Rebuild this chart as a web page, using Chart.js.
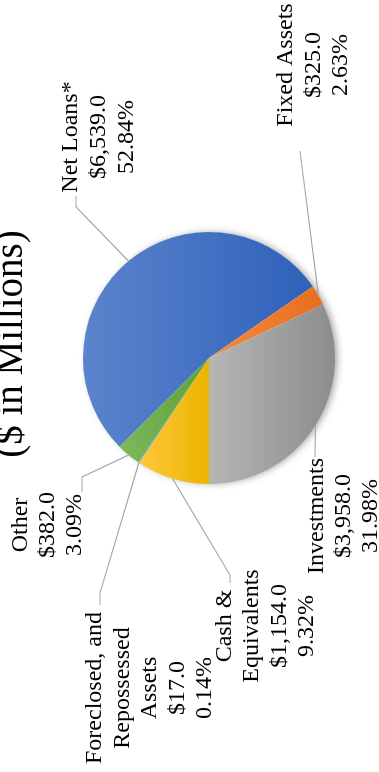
<!DOCTYPE html>
<html>
<head>
<meta charset="utf-8">
<script src="https://cdn.jsdelivr.net/npm/chart.js@4"></script>
<style>
    html, body { margin: 0; padding: 0; background: #fff; overflow: hidden; }
    /* the chart is laid out wide and turned a quarter turn to the left */
    #contenedor {
        position: absolute; left: 0; top: 772px;
        width: 772px; height: 379px;
        transform-origin: 0 0; transform: rotate(-90deg);
    }
</style>
</head>
<body>
<div id="contenedor"><canvas id="ActivosChart" width="772" height="379"></canvas></div>
<script>
// Datos
var categorias = [
    ['Net Loans*'],
    ['Fixed Assets'],
    ['Investments'],
    ['Cash &', 'Equivalents'],
    ['Foreclosed, and', 'Repossessed', 'Assets'],
    ['Other']
];
var montos = [6539.0, 325.0, 3958.0, 1154.0, 17.0, 382.0];
var porcentajes = ['52.84%', '2.63%', '31.98%', '9.32%', '0.14%', '3.09%'];
var titulo = '($ in Millions)';

var coloresClaros = ['#5c84cc', '#f58a40', '#b6b6b6', '#ffc83c', '#6ea8dc', '#7dba5c'];
var coloresOscuros = ['#2e61ba', '#e86e1c', '#8c8c8c', '#ebb400', '#4a88c4', '#5f9d3b'];

var rotacion = 315.2;

// posicion de cada etiqueta: centro x, primera linea base y, interlineado, codos de la guia
var etiquetas = [
    { x: 635, y: 77, lh: 28, guia: [[565, 76], [576, 76]] },
    { x: 707, y: 292, lh: 27.5, guia: [[621, 300]] },
    { x: 256, y: 323, lh: 27, guia: [[315, 315]] },
    { x: 146, y: 231, lh: 27.3, guia: [[197, 230], [189, 230]] },
    { x: 84, y: 101, lh: 27.5, guia: [[179, 100], [167, 100]] },
    { x: 247, y: 27, lh: 27, guia: [[295, 82], [280, 82]] }
];

var total = montos.reduce(function (a, b) { return a + b; }, 0);

function formatoMonto(v) {
    return '$' + v.toLocaleString('en-US', { minimumFractionDigits: 1, maximumFractionDigits: 1 });
}

// degradado vertical por rebanada, de su borde superior al inferior
function degradado(context) {
    var i = context.dataIndex;
    var chart = context.chart;
    var area = chart.chartArea;
    if (!area) return coloresClaros[i];
    var cy = (area.top + area.bottom) / 2;
    var r = Math.min(area.width, area.height) / 2;
    var antes = 0;
    for (var k = 0; k < i; k++) antes += montos[k];
    var s = -Math.PI / 2 + rotacion * Math.PI / 180 + antes / total * 2 * Math.PI;
    var e = s + montos[i] / total * 2 * Math.PI;
    var ys = [cy, cy + r * Math.sin(s), cy + r * Math.sin(e)];
    for (var n = -3; n <= 5; n++) {
        var a = Math.PI / 2 + n * Math.PI;
        if (a >= s && a <= e) ys.push(cy + r * Math.sin(a));
    }
    var y0 = Math.min.apply(null, ys), y1 = Math.max.apply(null, ys);
    if (y1 - y0 < 1) y1 = y0 + 1;
    var g = chart.ctx.createLinearGradient(0, y0, 0, y1);
    g.addColorStop(0, coloresClaros[i]);
    g.addColorStop(1, coloresOscuros[i]);
    return g;
}

// sombra suave detras del circulo
var sombraPie = {
    id: 'sombraPie',
    beforeDatasetsDraw: function (chart) {
        var arc = chart.getDatasetMeta(0).data[0];
        if (!arc) return;
        var ctx = chart.ctx;
        ctx.save();
        ctx.shadowColor = 'rgba(0, 0, 0, 0.35)';
        ctx.shadowBlur = 7;
        ctx.shadowOffsetY = 3;
        ctx.fillStyle = '#fff';
        ctx.beginPath();
        ctx.arc(arc.x, arc.y, arc.outerRadius - 0.5, 0, 2 * Math.PI);
        ctx.fill();
        ctx.restore();
    }
};

// titulo, lineas guia y etiquetas
var textos = {
    id: 'textos',
    afterDatasetsDraw: function (chart) {
        var ctx = chart.ctx;
        var arcos = chart.getDatasetMeta(0).data;
        ctx.save();

        ctx.fillStyle = '#000';
        ctx.textAlign = 'center';
        ctx.textBaseline = 'alphabetic';
        ctx.font = '39px "Liberation Serif"';
        ctx.fillText(titulo, 428, 22);

        ctx.strokeStyle = '#a6a6a6';
        ctx.lineWidth = 1.2;
        arcos.forEach(function (arc, i) {
            var medio = (arc.startAngle + arc.endAngle) / 2;
            var et = etiquetas[i];
            ctx.beginPath();
            ctx.moveTo(arc.x + Math.cos(medio) * arc.outerRadius, arc.y + Math.sin(medio) * arc.outerRadius);
            et.guia.forEach(function (p) { ctx.lineTo(p[0], p[1]); });
            ctx.stroke();
        });

        ctx.font = '24px "Liberation Serif"';
        ctx.fillStyle = '#000';
        categorias.forEach(function (nombre, i) {
            var et = etiquetas[i];
            var lineas = nombre.concat([formatoMonto(montos[i]), porcentajes[i]]);
            lineas.forEach(function (t, j) {
                ctx.fillText(t, et.x, et.y + j * et.lh);
            });
        });
        ctx.restore();
    }
};

var ctx = document.getElementById('ActivosChart').getContext('2d');

var myChart = new Chart(ctx, {
    type: 'pie',
    data: {
        labels: categorias.map(function (c) { return c.join(' '); }),
        datasets: [{
            data: montos,
            backgroundColor: degradado,
            borderWidth: 0
        }]
    },
    options: {
        responsive: false,
        animation: false,
        devicePixelRatio: 1,
        events: [],
        rotation: rotacion,
        layout: {
            padding: { top: 83, bottom: 44, left: 288, right: 232 }
        },
        plugins: {
            legend: { display: false },
            tooltip: { enabled: false }
        }
    },
    plugins: [sombraPie, textos]
});
</script>
</body>
</html>
